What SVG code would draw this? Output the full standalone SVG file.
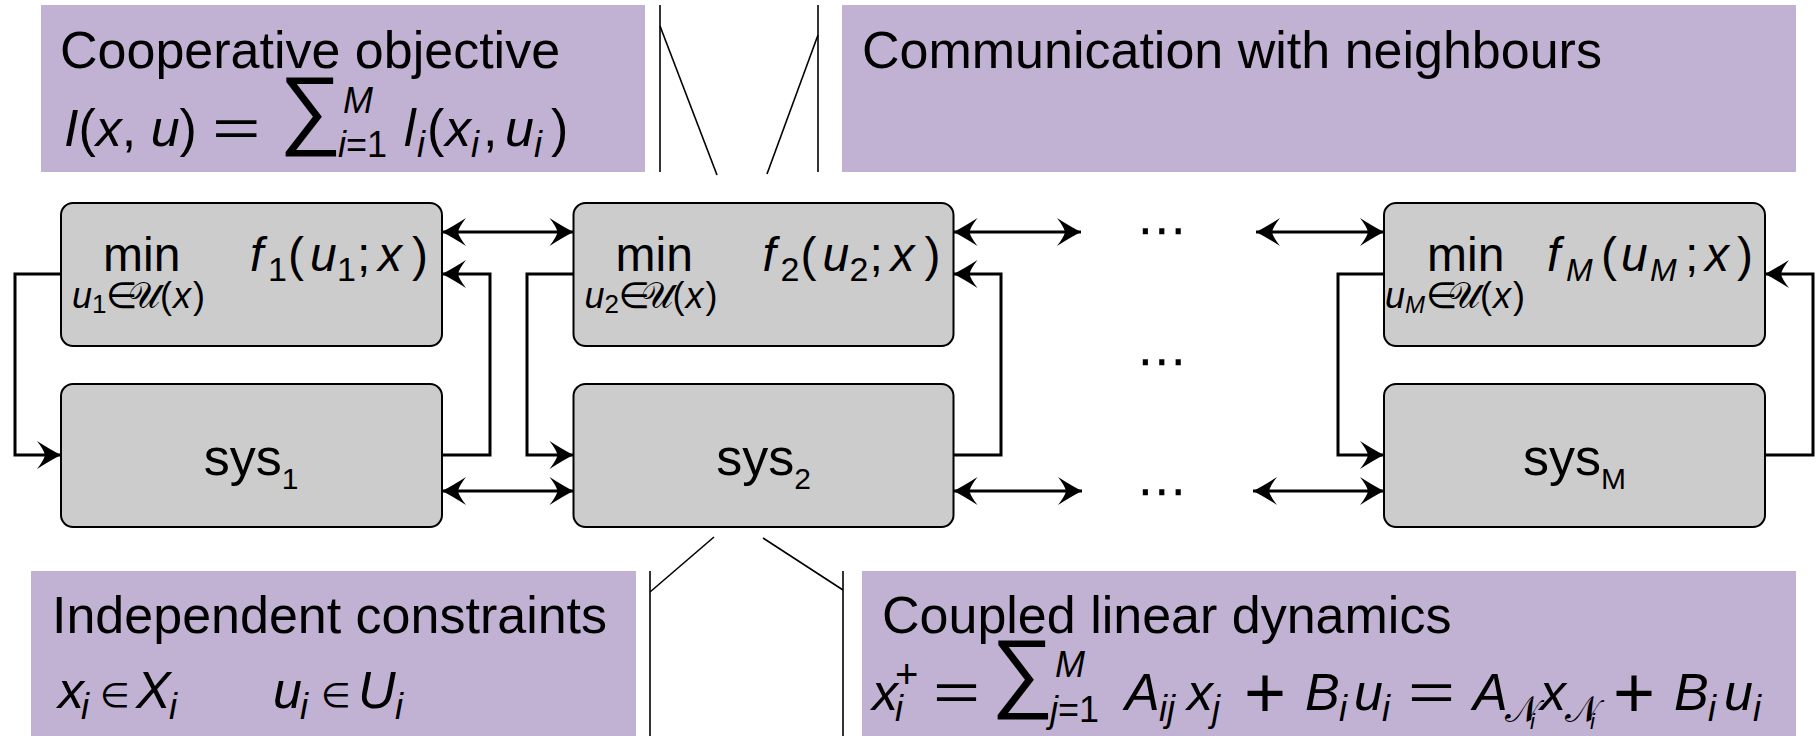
<svg xmlns="http://www.w3.org/2000/svg" width="1819" height="736" viewBox="0 0 1819 736">
<defs>
<style>
text{font-family:"Liberation Sans","DejaVu Sans",sans-serif;fill:#000}
.hd{font-size:52px}
.i{font-style:italic}
.s{font-size:36px}
.sig{font-size:88px}
.pur{fill:#C1B1D3}
.box{fill:#CCCCCC;stroke:#000;stroke-width:2}
.conn{fill:none;stroke:#000;stroke-width:3}
.thin{fill:none;stroke:#000;stroke-width:1.6}
.bm{font-size:48px}
.bs{font-size:36px}
.sys{font-size:52px;text-anchor:middle}
.dots{font-size:50px}
</style>
<marker id="ah" viewBox="-26 -16 28 32" refX="0" refY="0" markerWidth="28" markerHeight="32" markerUnits="userSpaceOnUse" orient="auto-start-reverse">
<path d="M0,0 Q-10,-5 -24,-14 Q-17,-5 -16,0 Q-17,5 -24,14 Q-10,5 0,0 Z" fill="#000"/>
</marker>
</defs>
<rect width="1819" height="736" fill="#fff"/>

<g id="objective">
<rect class="pur" x="41" y="5" width="604" height="167"/>
<text class="hd" x="60" y="68">Cooperative objective</text>
<text class="hd" y="146"><tspan x="64" class="i">I</tspan>(<tspan class="i">x</tspan>, <tspan class="i">u</tspan>)</text>
<text class="hd" transform="translate(212,146) scale(1.6,1)">=</text>
<text class="sig" x="279" y="138">∑</text>
<text class="s i" x="343" y="113">M</text>
<text class="s" x="338" y="157"><tspan class="i">i</tspan>=1</text>
<text class="hd i" x="404" y="146">l</text>
<text class="s i" x="417" y="157">i</text>
<text class="hd" x="427" y="146">(</text>
<text class="hd i" x="445" y="146">x</text>
<text class="s i" x="471" y="157">i</text>
<text class="hd" x="483" y="146">,</text>
<text class="hd i" x="505" y="146">u</text>
<text class="s i" x="534" y="157">i</text>
<text class="hd" x="551" y="146">)</text>
</g>

<g id="communication">
<rect class="pur" x="842" y="5" width="954" height="167"/>
<text class="hd" x="862" y="68">Communication with neighbours</text>
</g>

<g id="constraints">
<rect class="pur" x="31" y="571" width="605" height="165"/>
<text class="hd" x="52" y="633">Independent constraints</text>
<text class="hd i" x="58" y="708">x</text>
<text class="s i" x="81" y="719">i</text>
<text x="100" y="707" style="font-size:34px">∈</text>
<text class="hd i" x="136" y="708">X</text>
<text class="s i" x="169" y="719">i</text>
<text class="hd i" x="273" y="708">u</text>
<text class="s i" x="300" y="719">i</text>
<text x="321" y="707" style="font-size:34px">∈</text>
<text class="hd i" x="358" y="708">U</text>
<text class="s i" x="395" y="719">i</text>
</g>

<g id="dynamics">
<rect class="pur" x="862" y="571" width="934" height="165"/>
<text class="hd" x="882" y="633">Coupled linear dynamics</text>
<text class="hd i" x="872" y="710">x</text>
<text class="s i" x="895" y="721">i</text>
<text x="895" y="688" style="font-size:40px">+</text>
<text class="hd" transform="translate(933,710) scale(1.55,1)">=</text>
<text class="sig" x="991" y="701">∑</text>
<text class="s i" x="1055" y="677">M</text>
<text class="s" x="1050" y="722"><tspan class="i">j</tspan>=1</text>
<text class="hd i" x="1125" y="710">A</text>
<text class="s i" x="1159" y="721">ij</text>
<text class="hd i" x="1187" y="710">x</text>
<text class="s i" x="1212" y="721">j</text>
<text x="1244" y="717" style="font-size:72px">+</text>
<text class="hd i" x="1305" y="710">B</text>
<text class="s i" x="1339" y="721">i</text>
<text class="hd i" x="1354" y="710">u</text>
<text class="s i" x="1382" y="721">i</text>
<text class="hd" transform="translate(1408,710) scale(1.55,1)">=</text>
<text class="hd i" x="1473" y="710">A</text>
<text x="1505" y="722" style="font-size:36px">𝒩</text>
<text class="i" x="1530" y="729" style="font-size:22px">i</text>
<text class="hd i" x="1540" y="710">x</text>
<text x="1565" y="722" style="font-size:36px">𝒩</text>
<text class="i" x="1590" y="729" style="font-size:22px">i</text>
<text x="1613" y="717" style="font-size:72px">+</text>
<text class="hd i" x="1674" y="710">B</text>
<text class="s i" x="1708" y="721">i</text>
<text class="hd i" x="1724" y="710">u</text>
<text class="s i" x="1753" y="721">i</text>
</g>

<g id="callout-lines">
<line class="thin" x1="660" y1="5" x2="660" y2="172"/>
<line class="thin" x1="660" y1="26" x2="717" y2="175"/>
<line class="thin" x1="818" y1="5" x2="818" y2="172"/>
<line class="thin" x1="818" y1="35" x2="767" y2="174"/>
<line class="thin" x1="650" y1="571" x2="650" y2="736"/>
<line class="thin" x1="650" y1="592" x2="714" y2="537"/>
<line class="thin" x1="843" y1="571" x2="843" y2="736"/>
<line class="thin" x1="843" y1="590" x2="763" y2="538"/>
</g>

<g id="connectors">
<path class="conn" d="M61,274 H15 V455 H61" marker-end="url(#ah)"/>
<path class="conn" d="M442,455 H490 V274 H442" marker-end="url(#ah)"/>
<path class="conn" d="M573.5,274 H527 V455 H573.5" marker-end="url(#ah)"/>
<path class="conn" d="M953.5,455 H1001 V274 H953.5" marker-end="url(#ah)"/>
<path class="conn" d="M1384,274 H1338 V455 H1384" marker-end="url(#ah)"/>
<path class="conn" d="M1765,455 H1813 V274 H1765" marker-end="url(#ah)"/>
<path class="conn" d="M442,232 H573.5" marker-start="url(#ah)" marker-end="url(#ah)"/>
<path class="conn" d="M442,491 H573.5" marker-start="url(#ah)" marker-end="url(#ah)"/>
<path class="conn" d="M953.5,232 H1081" marker-start="url(#ah)" marker-end="url(#ah)"/>
<path class="conn" d="M953.5,491 H1082" marker-start="url(#ah)" marker-end="url(#ah)"/>
<path class="conn" d="M1256,232 H1384" marker-start="url(#ah)" marker-end="url(#ah)"/>
<path class="conn" d="M1253,491 H1384" marker-start="url(#ah)" marker-end="url(#ah)"/>
</g>

<g id="opt1">
<rect class="box" x="61" y="203" width="381" height="143" rx="12"/>
<text class="bm" x="103" y="271">min</text>
<text class="bm" y="271"><tspan x="250" class="i">f</tspan><tspan x="268" dy="10" style="font-size:34px">1</tspan><tspan x="288" dy="-10">(</tspan><tspan x="310" class="i">u</tspan><tspan x="337" dy="10" style="font-size:34px">1</tspan><tspan x="357" dy="-10">;</tspan><tspan x="378" class="i">x</tspan><tspan x="412">)</tspan></text>
<text class="bs" y="308"><tspan x="72" class="i">u</tspan><tspan x="92" dy="5" style="font-size:26px">1</tspan><tspan x="106" dy="-5">∈</tspan><tspan x="128">𝒰</tspan><tspan x="160">(</tspan><tspan x="173" class="i">x</tspan><tspan x="193">)</tspan></text>
</g>
<g id="sys1">
<rect class="box" x="61" y="384" width="381" height="143" rx="12"/>
<text class="sys" x="251" y="475">sys<tspan dy="14" style="font-size:30px">1</tspan></text>
</g>

<g id="opt2">
<rect class="box" x="573.5" y="203" width="380" height="143" rx="12"/>
<text class="bm" x="615.5" y="271">min</text>
<text class="bm" y="271"><tspan x="762.5" class="i">f</tspan><tspan x="780.5" dy="10" style="font-size:34px">2</tspan><tspan x="800.5" dy="-10">(</tspan><tspan x="822.5" class="i">u</tspan><tspan x="849.5" dy="10" style="font-size:34px">2</tspan><tspan x="869.5" dy="-10">;</tspan><tspan x="890.5" class="i">x</tspan><tspan x="924.5">)</tspan></text>
<text class="bs" y="308"><tspan x="584.5" class="i">u</tspan><tspan x="604.5" dy="5" style="font-size:26px">2</tspan><tspan x="618.5" dy="-5">∈</tspan><tspan x="640.5">𝒰</tspan><tspan x="672.5">(</tspan><tspan x="685.5" class="i">x</tspan><tspan x="705.5">)</tspan></text>
</g>
<g id="sys2">
<rect class="box" x="573.5" y="384" width="380" height="143" rx="12"/>
<text class="sys" x="763.5" y="475">sys<tspan dy="14" style="font-size:30px">2</tspan></text>
</g>

<g id="optM">
<rect class="box" x="1384" y="203" width="381" height="143" rx="12"/>
<text class="bm" x="1427" y="271">min</text>
<text class="bm" y="271"><tspan x="1547" class="i">f</tspan><tspan x="1566" dy="10" class="i" style="font-size:32px">M</tspan><tspan x="1601" dy="-10">(</tspan><tspan x="1621" class="i">u</tspan><tspan x="1650" dy="10" class="i" style="font-size:32px">M</tspan><tspan x="1685" dy="-10">;</tspan><tspan x="1705" class="i">x</tspan><tspan x="1737">)</tspan></text>
<text class="bs" y="308"><tspan x="1385" class="i">u</tspan><tspan x="1405" dy="5" class="i" style="font-size:24px">M</tspan><tspan x="1426" dy="-5">∈</tspan><tspan x="1448">𝒰</tspan><tspan x="1480">(</tspan><tspan x="1493" class="i">x</tspan><tspan x="1513">)</tspan></text>
</g>
<g id="sysM">
<rect class="box" x="1384" y="384" width="381" height="143" rx="12"/>
<text class="sys" x="1574.5" y="475">sys<tspan dy="14" style="font-size:30px">M</tspan></text>
</g>

<g id="ellipses">
<text class="dots" x="1137" y="247" textLength="44">⋯</text>
<text class="dots" x="1137" y="378" textLength="44">⋯</text>
<text class="dots" x="1137" y="508" textLength="44">⋯</text>
</g>
</svg>
